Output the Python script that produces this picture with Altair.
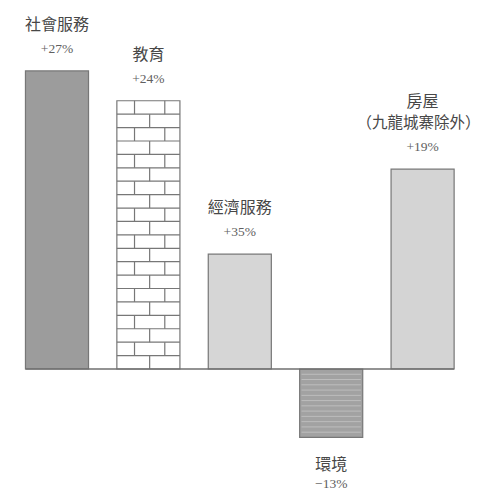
import altair as alt
import pandas as pd

# ---- data ----
categories = ["社會服務", "教育", "經濟服務", "環境", "房屋"]
notes = ["", "", "", "", "（九龍城寨除外）"]
pct_labels = ["+27%", "+24%", "+35%", "−13%", "+19%"]
bar_values = [27.0, 24.3, 10.4, -6.2, 18.1]   # bar lengths as drawn
brick_rows = 20                                # courses of bricks in the 教育 bar
streak_rows = 13                               # light streaks in the 環境 bar

# ---- styles ----
fill_range = ["#9c9c9c", "#ffffff", "#d6d6d6", "#a2a2a2", "#d4d4d4"]
stroke_col = "#777777"
text_col = "#474747"
pct_col = "#606060"
half = 0.345
px_per_unit = 11.04
line_gap = 21 / px_per_unit

df = pd.DataFrame({
    "idx": list(range(len(categories))),
    "cat": categories,
    "note": notes,
    "pct": pct_labels,
    "val": bar_values,
})

xs = alt.Scale(domain=[-0.536, 4.639], nice=False, zero=False)
ys = alt.Scale(domain=[-10.96, 32.70], nice=False, zero=False)

base = alt.Chart(df).transform_calculate(
    x0=f"datum.idx - {half}",
    x1=f"datum.idx + {half}",
    name_y=f"datum.note != '' ? datum.val + {line_gap} : datum.val",
)

bars = base.mark_rect(stroke=stroke_col, strokeWidth=1.2).encode(
    x=alt.X("x0:Q", scale=xs, axis=None),
    x2="x1:Q",
    y=alt.Y("val:Q", scale=ys, axis=None),
    y2=alt.datum(0),
    fill=alt.Fill("cat:N", scale=alt.Scale(domain=categories, range=fill_range), legend=None),
)

# brick pattern for the 教育 bar, derived from its value
edu_i = 1
rowh = bar_values[edu_i] / brick_rows
hlines = pd.DataFrame({
    "y": [r * rowh for r in range(1, brick_rows)],
    "xa": [edu_i - half] * (brick_rows - 1),
    "xb": [edu_i + half] * (brick_rows - 1),
})
vrows = []
for r in range(brick_rows):
    fracs = [0.52] if r % 2 == 0 else [0.28, 0.76]
    for f in fracs:
        vrows.append({"x": edu_i - half + f * 2 * half, "ya": r * rowh, "yb": (r + 1) * rowh})
vlines = pd.DataFrame(vrows)

brick_h = alt.Chart(hlines).mark_rule(color=stroke_col, strokeWidth=1.2).encode(
    x=alt.X("xa:Q", scale=xs, axis=None), x2="xb:Q",
    y=alt.Y("y:Q", scale=ys, axis=None),
)
brick_v = alt.Chart(vlines).mark_rule(color=stroke_col, strokeWidth=1.2).encode(
    x=alt.X("x:Q", scale=xs, axis=None),
    y=alt.Y("ya:Q", scale=ys, axis=None), y2="yb:Q",
)

# horizontal streak texture for the 環境 bar
env_i = 3
sh = bar_values[env_i] / streak_rows
streaks = pd.DataFrame({
    "y": [r * sh for r in range(1, streak_rows)],
    "xa": [env_i - half + 0.02] * (streak_rows - 1),
    "xb": [env_i + half - 0.02] * (streak_rows - 1),
})
streak_layer = alt.Chart(streaks).mark_rule(color="#c4c4c4", strokeWidth=1, opacity=0.8).encode(
    x=alt.X("xa:Q", scale=xs, axis=None), x2="xb:Q",
    y=alt.Y("y:Q", scale=ys, axis=None),
)

baseline = alt.Chart(pd.DataFrame({"a": [0]})).mark_rule(color="#6f6f6f", strokeWidth=1.6).encode(
    x=alt.X(datum=-half, scale=xs, axis=None),
    x2=alt.datum(len(categories) - 1 + half),
    y=alt.Y(datum=0, scale=ys, axis=None),
)

pos = base.transform_filter("datum.val > 0")
neg = base.transform_filter("datum.val < 0")

name_style = dict(baseline="middle", fontSize=16, font="Noto Sans CJK TC", color=text_col)
pct_style = dict(baseline="middle", fontSize=13.5, font="Liberation Serif", color=pct_col)

name_pos = pos.mark_text(dy=-46, **name_style).encode(
    x=alt.X("idx:Q", scale=xs, axis=None),
    y=alt.Y("name_y:Q", scale=ys, axis=None),
    text="cat:N",
)
note_pos = pos.transform_filter("datum.note != ''").mark_text(
    dy=-46, dx=-4, baseline="middle", fontSize=15.5, font="Noto Sans CJK TC", color=text_col
).encode(
    x=alt.X("idx:Q", scale=xs, axis=None),
    y=alt.Y("val:Q", scale=ys, axis=None),
    text="note:N",
)
pct_pos = pos.mark_text(dy=-22, **pct_style).encode(
    x=alt.X("idx:Q", scale=xs, axis=None),
    y=alt.Y("val:Q", scale=ys, axis=None),
    text="pct:N",
)
name_neg = neg.mark_text(dy=28, **name_style).encode(
    x=alt.X("idx:Q", scale=xs, axis=None),
    y=alt.Y("val:Q", scale=ys, axis=None),
    text="cat:N",
)
pct_neg = neg.mark_text(dy=47, **pct_style).encode(
    x=alt.X("idx:Q", scale=xs, axis=None),
    y=alt.Y("val:Q", scale=ys, axis=None),
    text="pct:N",
)

chart = alt.layer(
    bars, brick_h, brick_v, streak_layer, baseline,
    name_pos, note_pos, pct_pos, name_neg, pct_neg
).properties(
    width=473, height=482, padding=0,
    autosize=alt.AutoSizeParams(type="none"),
    background="white",
).configure_view(stroke=None)

chart.save("out.html", embed_options={"renderer": "svg", "actions": False})
